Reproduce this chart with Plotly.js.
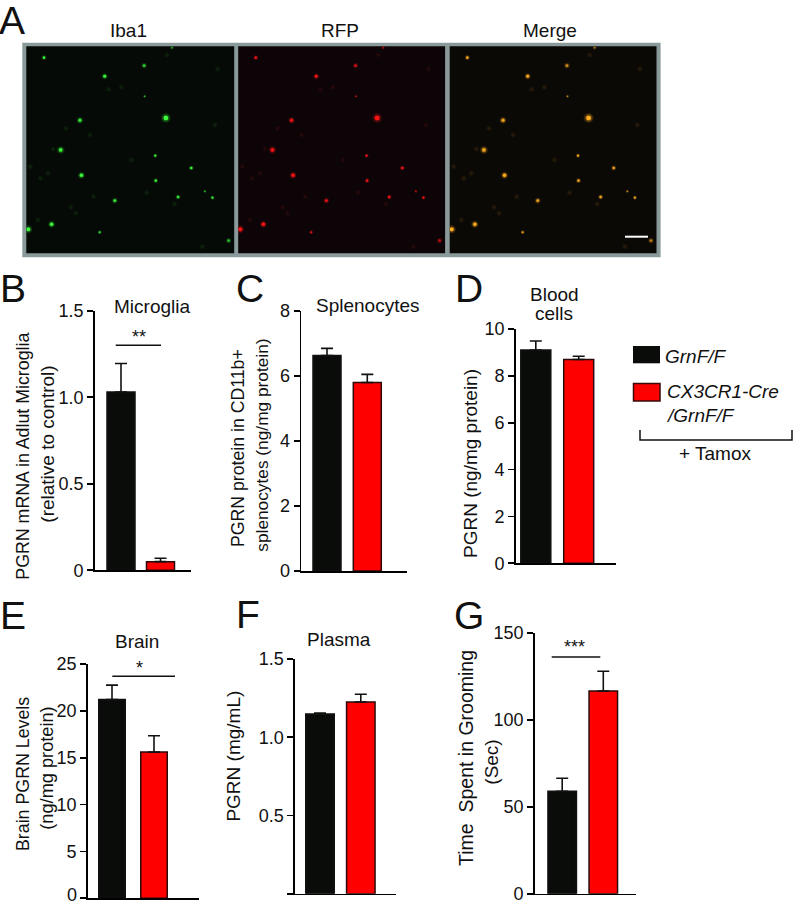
<!DOCTYPE html>
<html><head><meta charset="utf-8">
<script src="https://cdn.plot.ly/plotly-3.0.1.min.js"></script>
<style>html,body{margin:0;padding:0;background:#fff}#chart{width:793px;height:904px}</style>
</head><body><div id="chart"></div>
<script>
// ---------- data ----------
const groups = ["GrnF/F", "CX3CR1-Cre/GrnF/F"];
const microgliaMean = [1.03, 0.05];
const microgliaErr  = [0.165, 0.02];
const microgliaTicks = [0, 0.5, 1.0, 1.5];
const microgliaLabels = ["0", "0.5", "1.0", "1.5"];
const splenoMean = [6.63, 5.8];
const splenoErr  = [0.22, 0.25];
const splenoTicks = [0, 2, 4, 6, 8];
const bloodMean = [9.1, 8.7];
const bloodErr  = [0.39, 0.14];
const bloodTicks = [0, 2, 4, 6, 8, 10];
const brainMean = [21.2, 15.6];
const brainErr  = [1.55, 1.75];
const brainTicks = [0, 5, 10, 15, 20, 25];
const brainLabels = ["", "5", "10", "15", "20", "25"];
const plasmaMean = [1.148, 1.225];
const plasmaErr  = [0.007, 0.05];
const plasmaTicks = [0, 0.5, 1.0, 1.5];
const plasmaLabels = ["", "0.5", "1.0", "1.5"];
const groomMean = [58.9, 116.6];
const groomErr  = [7.5, 11.4];
const groomTicks = [0, 50, 100, 150];
// microscopy field: bright cells (field units)
const cellX = [87,285,207,286,158,328,120,307,378,161,308,405,352,420,227,102,56,197,452,340];
const cellY = [173,197,229,289,361,354,450,467,504,526,542,574,591,593,602,673,688,697,722,143];
const cellSize = [6,7,7,4,8,11,9,5,6,8,6,4,6,5,7,8,9,5,7,5];
const cellLevel = [.8,.6,.9,.5,.75,1,.8,.85,.8,.95,.75,.55,.8,.8,.75,.95,1,.7,.5,.4];
// faint processes
const fibreX = [140,178,105,430,240,80,75,290,425,185,345,95,150,60,215,400,130,260,330];
const fibreY = [622,405,447,207,262,535,660,578,375,590,612,520,640,500,268,740,385,480,165];

// ---------- layout helpers ----------
const W = 793, H = 904;
const px = x => x / W, py = y => 1 - y / H;
const font = "Liberation Sans, Arial, sans-serif";
const black = "#0a0c0a", red = "#ff0000";

const panels = [
 {mean:microgliaMean, err:microgliaErr, ticks:microgliaTicks, labels:microgliaLabels, ymax:1.5, ax:94.7, end:191, top:310.7, bot:570.3, c:[121,160.5], bw:28},
 {mean:splenoMean, err:splenoErr, ticks:splenoTicks, ymax:8, ax:301.3, end:406.7, top:311, bot:571, c:[327,367.3], bw:28},
 {mean:bloodMean, err:bloodErr, ticks:bloodTicks, ymax:10, ax:515.7, end:616, top:329, bot:563.3, c:[535.8,578.7], bw:30},
 {mean:brainMean, err:brainErr, ticks:brainTicks, labels:brainLabels, ymax:25, ax:87.7, end:199, top:664, bot:898.3, c:[112,154], bw:26.5},
 {mean:plasmaMean, err:plasmaErr, ticks:plasmaTicks, labels:plasmaLabels, ymax:1.5, ax:295, end:396, top:659, bot:893.7, c:[320,360.8], bw:28.5},
 {mean:groomMean, err:groomErr, ticks:groomTicks, ymax:150, ax:534.7, end:635.7, top:633, bot:893.7, c:[562.2,603.3], bw:28.5},
];

const traces = [];
const layout = {
  width: W, height: H, margin:{l:0,r:0,t:0,b:0},
  paper_bgcolor:"#fff", plot_bgcolor:"rgba(0,0,0,0)",
  showlegend:false, font:{family:font,color:"#111"},
  shapes:[], annotations:[]
};

panels.forEach((p,i)=>{
  const n = i+1, s = n===1?"":n;
  const unit = p.c[1]-p.c[0];
  const r0 = (p.ax-p.c[0])/unit, r1 = (p.end-p.c[0])/unit;
  layout["xaxis"+s] = {domain:[px(p.ax),px(p.end)], range:[r0,r1], type:"category", anchor:"y"+s,
    showgrid:false, zeroline:false, showline:true, linecolor:"#000", linewidth:1.6, ticks:"", showticklabels:false, fixedrange:true};
  layout["yaxis"+s] = {domain:[py(p.bot),py(p.top)], range:[0,p.ymax], anchor:"x"+s,
    showgrid:false, zeroline:false, showline:true, linecolor:"#000", linewidth:1.6,
    ticks:"outside", ticklen:6, tickwidth:1.6, tickcolor:"#000",
    tickmode:"array", tickvals:p.ticks, ticktext:p.labels||p.ticks.map(String),
    tickfont:{family:font,size:18,color:"#111"}, fixedrange:true};
  traces.push({type:"bar", x:groups, y:p.mean, xaxis:"x"+s, yaxis:"y"+s, width:p.bw/unit,
    marker:{color:[black,red], line:{color:["#111","#2a0a0a"],width:1.5}},
    error_y:{type:"data",symmetric:false,array:p.err,arrayminus:[0,0],color:"#111",thickness:1.6,width:6},
    hoverinfo:"skip"});
});

// microscopy panels
const fields = [
 {l:26.3,r:234.2,bg:"#060a06", col:"#3dff3d",clear:"rgba(20,120,20,0)",faint:"#2a6a2a"},
 {l:238.2,r:445.1,bg:"#0c0406", col:"#ff1414",clear:"rgba(150,10,20,0)",faint:"#6a1a22"},
 {l:449.7,r:656.5,bg:"#0b0906", col:"#ffb020",clear:"rgba(170,100,10,0)",faint:"#6a4e18"},
];
const imgTop = 46.3, imgBot = 253.3;
layout.shapes.push({type:"rect",xref:"paper",yref:"paper",x0:px(22.3),x1:px(660.6),y0:py(42.7),y1:py(257.3),
  fillcolor:"#8a9a9a",line:{width:0},layer:"below"});
fields.forEach((f,i)=>{
  const n = i+7;
  layout["xaxis"+n] = {domain:[px(f.l),px(f.r)],range:[52,463],visible:false,anchor:"y"+n,fixedrange:true};
  layout["yaxis"+n] = {domain:[py(imgBot),py(imgTop)],range:[760,139],visible:false,anchor:"x"+n,fixedrange:true};
  layout.shapes.push({type:"rect",xref:"paper",yref:"paper",x0:px(f.l),x1:px(f.r),y0:py(imgBot),y1:py(imgTop),
    fillcolor:f.bg,line:{width:0},layer:"below"});
  traces.push({type:"scatter",mode:"markers",x:fibreX,y:fibreY,xaxis:"x"+n,yaxis:"y"+n,hoverinfo:"skip",
    marker:{size:6,color:f.clear,opacity:.3,line:{width:0},gradient:{type:"radial",color:f.faint}}});
  traces.push({type:"scatter",mode:"markers",x:cellX,y:cellY,xaxis:"x"+n,yaxis:"y"+n,hoverinfo:"skip",
    marker:{size:cellSize,color:f.clear,opacity:cellLevel,line:{width:0},gradient:{type:"radial",color:f.col}}});
  traces.push({type:"scatter",mode:"markers",x:cellX,y:cellY,xaxis:"x"+n,yaxis:"y"+n,hoverinfo:"skip",
    marker:{size:cellSize.map(v=>v*0.42),color:f.col,opacity:cellLevel,line:{width:0}}});
});
// scale bar
layout.shapes.push({type:"line",xref:"paper",yref:"paper",x0:px(625),x1:px(648),y0:py(236.7),y1:py(236.7),line:{color:"#fff",width:2}});

// text helpers
function txt(t,x,y,size,opts){
  layout.annotations.push(Object.assign({text:t,xref:"paper",yref:"paper",x:px(x),y:py(y),showarrow:false,
    xanchor:"center",yanchor:"middle",font:{family:font,size:size,color:"#111"}},opts||{}));
}
// panel letters
[["A",12,21],["B",13,288],["C",250,288],["D",469,288],["E",13,615],["F",248,614],["G",469,615]]
  .forEach(a=>txt(a[0],a[1],a[2],39));
// titles
[["Iba1",128,30.7],["RFP",340,30.7],["Merge",550,30.7],["Microglia",151.7,306.7],["Splenocytes",367.5,305],
 ["Blood",554,294],["cells",554,314],["Brain",137,641.7],["Plasma",339,639]]
  .forEach(a=>txt(a[0],a[1],a[2],19));
// tick label that would not fit the page
txt("0",72,895,18);
// y axis titles
[["PGRN mRNA in Adlut Microglia",22.7,456,17.8],["(relative to control)",46.7,444,19],
 ["PGRN protein in CD11b+",238,448,17.7],["splenocytes (ng/mg protein)",261.7,445,17.3],
 ["PGRN (ng/mg protein)",470,463,19],
 ["Brain PGRN Levels",23,774,17.8],["(ng/mg protein)",46.7,768,18.2],
 ["PGRN (mg/mL)",234,756.6,19],
 ["Time  Spent in Grooming",466,758,19.5],["(Sec)",490.7,762,19]]
  .forEach(a=>txt(a[0],a[1],a[2],a[3],{textangle:-90}));
// significance
[[115.7,161,345.3,"**",138.7,337],[112.3,175,676.3,"*",139.7,668],[551.7,600.3,657,"***",574.7,647]]
  .forEach(a=>{
    layout.shapes.push({type:"line",xref:"paper",yref:"paper",x0:px(a[0]),x1:px(a[1]),y0:py(a[2]),y1:py(a[2]),line:{color:"#111",width:1.5}});
    txt(a[3],a[4],a[5],18);
  });
// group key
layout.shapes.push({type:"rect",xref:"paper",yref:"paper",x0:px(633),x1:px(660),y0:py(346),y1:py(363.3),fillcolor:black,line:{width:0}});
layout.shapes.push({type:"rect",xref:"paper",yref:"paper",x0:px(633.5),x1:px(660),y0:py(383.5),y1:py(401),fillcolor:red,line:{color:"#3a0a0a",width:1.5}});
txt("<i>GrnF/F</i>",662.5,356,19,{xanchor:"left"});
txt("<i>CX3CR1-Cre</i>",665,391.7,19,{xanchor:"left"});
txt("<i>/GrnF/F</i>",663.5,415,19,{xanchor:"left"});
txt("+ Tamox",715,454,19);
layout.shapes.push({type:"path",xref:"paper",yref:"paper",
  path:`M ${px(640)} ${py(430)} L ${px(640)} ${py(440)} L ${px(792)} ${py(440)} L ${px(792)} ${py(430)}`,
  line:{color:"#111",width:1.5}});

Plotly.newPlot("chart",traces,layout,{displayModeBar:false,staticPlot:true});
</script></body></html>
